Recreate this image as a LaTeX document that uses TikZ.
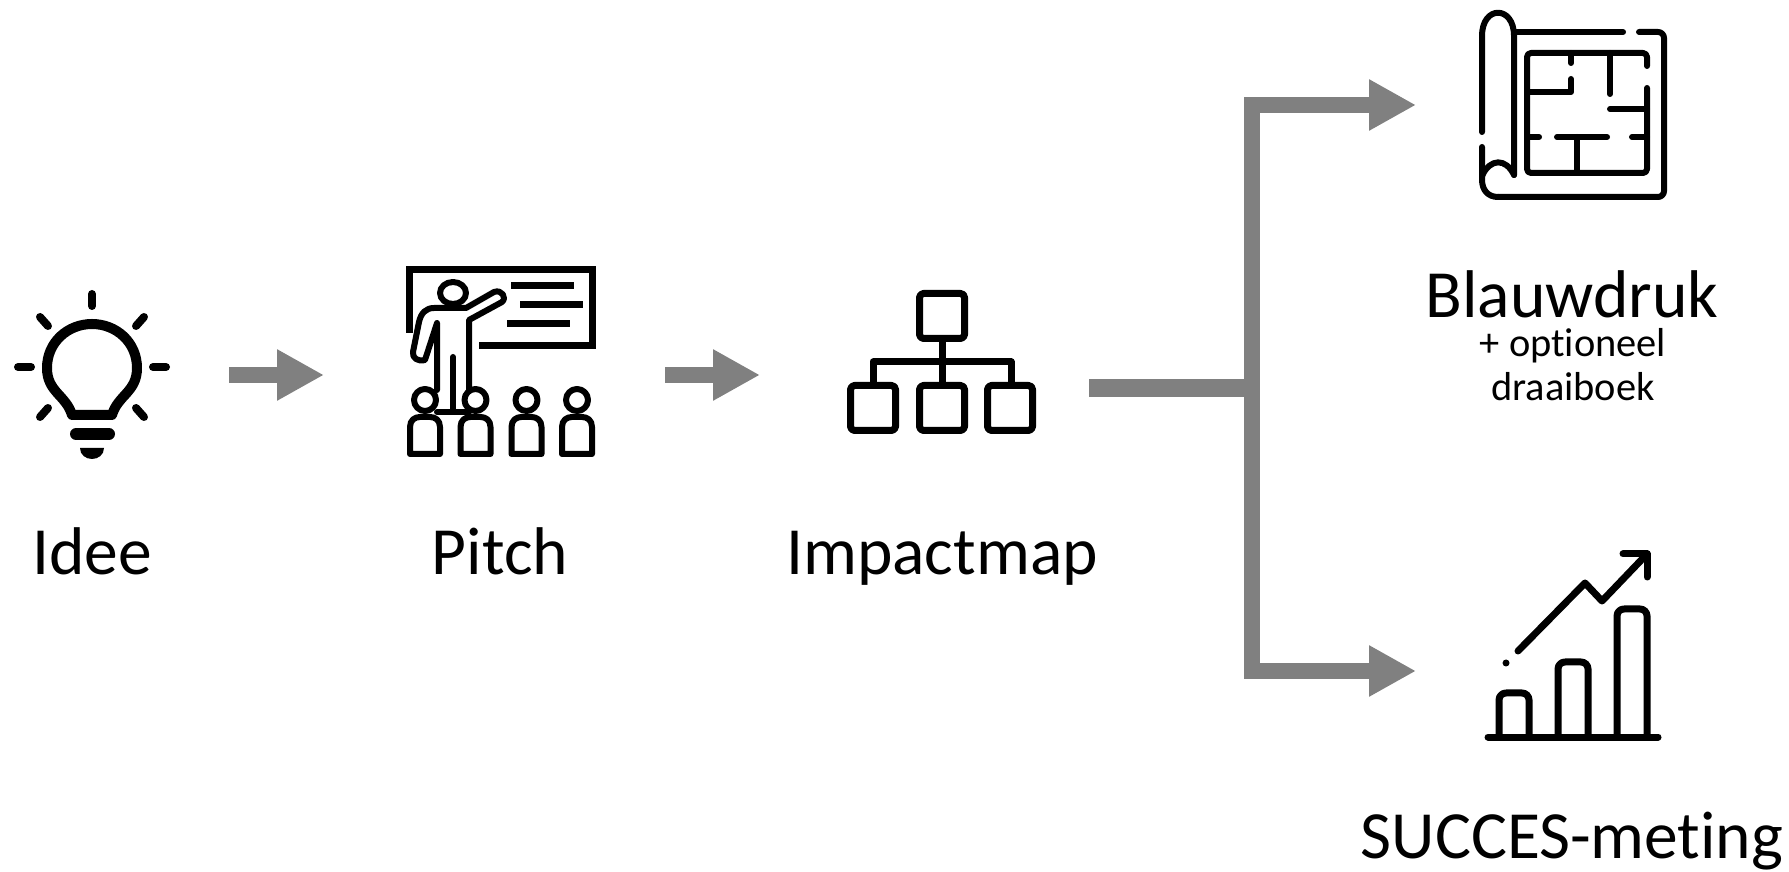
\documentclass[tikz,border=0pt]{standalone}
\usepackage{fontspec}
\setmainfont[Ligatures=NoCommon]{Carlito}
\usetikzlibrary{arrows.meta}
\tikzstyle{flow}=[draw=gray,line width=1.6mm,-{Triangle[length=4.7mm,width=4.8mm,fill=gray]}]
\tikzstyle{stem}=[draw=gray,line width=1.8mm]
\tikzstyle{icon}=[black,line width=.6mm,line cap=round,line join=round]
\tikzstyle{iconthick}=[icon,line width=.7mm]
\tikzstyle{big}=[anchor=base,inner sep=0pt,font=\fontsize{19.2}{22}\selectfont]
\tikzstyle{small}=[anchor=base,inner sep=0pt,font=\fontsize{11.5}{14}\selectfont]

\begin{document}
\begin{tikzpicture}[x=.1mm,y=-.1mm]
    \useasboundingbox (0,0) rectangle (1789,872);
    % idee
    \draw[icon,line width=1mm] (72,415) .. controls (66,395) and (47,392) .. (47,368) .. controls (47,342) and (68,324) .. (92,324) .. controls (116,324) and (137,342) .. (137,368) .. controls (137,392) and (118,395) .. (112,415) -- cycle;
    \foreach \xa/\ya/\xb/\yb in {18/367/31/367, 153/367/166/367, 92/294/92/306, 40/317/48/326, 144/317/136/326, 48/408/40/417, 136/408/144/417}
        \draw[icon,line width=.8mm] (\xa,\ya) -- (\xb,\yb);
    \draw[icon,line width=1.2mm] (76,434) -- (109,434);
    \fill (80,448) -- (104,448) .. controls (104,455) and (98,459) .. (92,459) .. controls (86,459) and (80,455) .. (80,448) -- cycle;
    % pitch
    \draw[iconthick,line cap=butt,line join=miter] (409,333) -- (409,270) -- (592,270) -- (592,346) -- (479,346);
    \foreach \xa/\xb/\y in {511/574/286, 520/583/305, 507/570/324}
        \draw[iconthick,line cap=butt] (\xa,\y) -- (\xb,\y);
    \draw[icon] (453,293) ellipse [x radius=13,y radius=11];
    \draw[icon] (437,390) -- (437,323) -- (425,360) .. controls (418,362) and (412,358) .. (413,352) -- (419,322) .. controls (421,313) and (426,308) .. (434,308) -- (466,308) -- (494,292) .. controls (502,289) and (507,298) .. (502,302) -- (469,320) -- (469,390);
    \draw[icon] (437,412) -- (469,412);
    \draw[icon] (453,357) -- (453,412);
    \foreach \c in {425,475.5,526.5,577} {
        \draw[icon,fill=white] (\c,400) circle [radius=11];
        \draw[icon,fill=white] (\c-15,454) -- (\c-15,427) .. controls (\c-15,420) and (\c-10,417) .. (\c-5,417) -- (\c+5,417) .. controls (\c+10,417) and (\c+15,420) .. (\c+15,427) -- (\c+15,454) -- cycle;
    }
    % impactmap
    \draw[iconthick,rounded corners=.4mm] (919.5,293.5) rectangle (964.5,338.5);
    \foreach \x in {850.5,919.5,987.5}
        \draw[iconthick,rounded corners=.4mm] (\x,385.5) rectangle (\x+45,430.5);
    \draw[iconthick,line cap=butt] (873,385) -- (873,362) -- (1011,362) -- (1011,385);
    \draw[iconthick,line cap=butt] (942,340) -- (942,385);
    % blauwdruk
    \draw[icon] (1482,132) -- (1482,36) .. controls (1482,5) and (1514,5) .. (1514,36) -- (1514,175);
    \draw[icon] (1514,32) -- (1623,32);
    \draw[icon,rounded corners=.6mm] (1639,32) -- (1664,32) -- (1664,197) -- (1498,197);
    \draw[icon] (1498,197) .. controls (1488,197) and (1482,190) .. (1482,180) -- (1482,147);
    \draw[icon] (1482,176) .. controls (1490,158) and (1506,158) .. (1514,175);
    \draw[icon,rounded corners=.4mm] (1647,66) -- (1647,53) -- (1527,53) -- (1527,173) -- (1647,173) -- (1647,88);
    \foreach \xa/\ya/\xb/\yb in {1571/53/1571/63, 1610/53/1610/94, 1610/109/1647/109, 1527/137/1539/137, 1557/137/1607/137, 1632/137/1647/137, 1577/137/1577/173}
        \draw[icon] (\xa,\ya) -- (\xb,\yb);
    \draw[icon] (1571,79) -- (1571,92) -- (1527,92);
    % succes
    \draw[iconthick] (1488,737) -- (1658,737);
    \foreach \xa/\ya/\xb in {1499/693/1529, 1558/662/1588, 1617/609/1647}
        \draw[iconthick,rounded corners=.7mm,line cap=butt] (\xa,737) -- (\xa,\ya) -- (\xb,\ya) -- (\xb,737);
    \draw[iconthick] (1518,651) -- (1585,583) -- (1602,601) -- (1647,554);
    \draw[iconthick] (1623,554) -- (1647,554) -- (1647,577);
    \fill (1506,663) circle [radius=3.5];
    % arrows
    \coordinate (ideeout) at (229,375);
    \coordinate (pitchin) at (324,375);
    \coordinate (pitchout) at (665,375);
    \coordinate (mapin) at (760,375);
    \coordinate (mapout) at (1089,388);
    \coordinate (stemend) at (1260,388);
    \coordinate (fork) at (1252,388);
    \coordinate (blauwin) at (1416,105);
    \coordinate (succesin) at (1416,671);
    \draw[flow] (ideeout) -- (pitchin);
    \draw[flow] (pitchout) -- (mapin);
    \draw[stem] (mapout) -- (stemend);
    \draw[flow] (fork) |- (blauwin);
    \draw[flow] (fork) |- (succesin);
    % labels
    \node[big] (idee) at (92,575) {Idee};
    \node[big] (pitch) at (500,575) {Pitch};
    \node[big] (impactmap) at (942,575) {Impactmap};
    \node[big] (blauwdruk) at (1572,318) {Blauwdruk};
    \node[small] (optioneel) at (1573,357) {+ optioneel};
    \node[small] (draaiboek) at (1573,401) {draaiboek};
    \node[big] (succes) at (1572,858) {SUCCES-meting};
\end{tikzpicture}
\end{document}
